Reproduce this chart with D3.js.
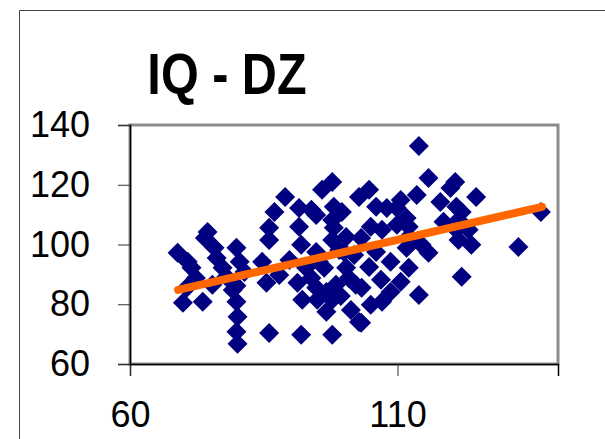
<!DOCTYPE html>
<html>
<head>
<meta charset="utf-8">
<script src="https://cdnjs.cloudflare.com/ajax/libs/d3/7.8.5/d3.min.js"></script>
<style>
    body { margin: 0; background: #fff; }
    svg { display: block; font-family: Arial, 'Liberation Sans', sans-serif; }
</style>
</head>
<body>
<script>
'use strict';

// chart values
var title = 'IQ - DZ';
var xTicks = [60, 110];
var yTicks = [60, 80, 100, 120, 140];

// twin 1 (x) and twin 2 (y) scores
var twinX = [68.9, 69.9, 70.6, 70.8, 71.5, 72.3, 73.6, 74.0, 74.5, 75.4,
    75.8, 76.2, 77.3, 78.0, 79.9, 80.5, 79.2, 79.9, 79.9, 80.1,
    79.9, 80.1, 81.4, 86.0, 86.0, 87.0, 89.0, 84.7, 85.5, 86.0,
    87.9, 89.8, 91.6, 91.6, 92.0, 92.9, 92.2, 92.0, 93.9, 94.8,
    94.8, 94.8, 95.9, 97.8, 98.1, 99.6, 98.1, 97.8, 96.7, 97.8,
    98.5, 97.8, 100.4, 102.2, 102.8, 102.8, 100.4, 91.3, 95.0, 100.0,
    96.3, 101.9, 95.3, 99.4, 100.9, 93.9, 96.7, 101.3, 99.1, 104.7,
    108.0, 109.9, 110.6, 113.6, 114.0, 115.8, 119.9, 120.8, 118.0, 121.0,
    122.0, 124.7, 136.8, 111.7, 105.0, 107.1, 121.0, 123.3, 123.8, 121.4,
    132.6, 122.0, 112.1, 114.5, 115.8, 114.0, 112.1, 110.6, 107.1, 105.0,
    103.2, 103.3, 104.7, 111.7, 112.7, 108.7, 106.9, 108.7, 103.2, 106.0,
    109.9, 118.6, 106.0, 121.4, 112.1, 97.8];
var twinY = [97.2, 80.5, 85.5, 94.2, 92.2, 88.8, 80.8, 102.2, 104.2, 86.5,
    98.9, 95.5, 92.2, 89.2, 98.9, 94.2, 84.8, 86.2, 80.8, 75.8,
    70.8, 66.8, 90.8, 105.6, 101.5, 110.9, 115.9, 94.2, 87.2, 70.4,
    89.8, 94.8, 112.2, 105.9, 99.9, 92.2, 81.5, 69.8, 111.6, 109.9,
    97.5, 85.5, 118.3, 120.9, 112.6, 110.9, 105.6, 101.5, 77.5, 81.5,
    86.5, 69.8, 92.2, 86.5, 74.1, 115.9, 102.5, 87.2, 81.5, 97.5,
    92.2, 96.5, 94.2, 82.8, 88.8, 88.8, 84.1, 78.1, 98.2, 118.3,
    112.2, 112.2, 114.9, 116.6, 133.0, 122.3, 118.9, 120.9, 114.2, 112.6,
    110.9, 115.9, 110.9, 108.9, 105.9, 104.9, 104.9, 104.9, 99.9, 101.5,
    99.2, 89.2, 102.5, 99.9, 97.2, 83.1, 92.2, 87.5, 80.8, 79.8,
    73.8, 85.5, 92.5, 98.9, 101.5, 94.2, 88.2, 84.1, 102.2, 97.5,
    106.6, 107.6, 112.6, 108.2, 105.9, 108.2];

// linear trend line end points
var trendX = [69, 137];
var trendY = [84.8, 112.6];

var width = 605;
var height = 439;
var plot = {left: 130, top: 125, right: 558, bottom: 364};

document.addEventListener('DOMContentLoaded', function() {
    drawScatter();
});

function drawScatter() {

    var svg = d3.select('body').append('svg')
        .attr('width', width)
        .attr('height', height);

    // outer chart frame (only top and left visible)
    svg.append('path')
        .attr('d', 'M19.5,' + height + 'V10.5H' + width)
        .attr('fill', 'none')
        .attr('stroke', '#444')
        .attr('stroke-width', 1);

    // scales
    var x = d3.scaleLinear()
        .domain([60, 140])
        .range([plot.left, plot.right]);

    var y = d3.scaleLinear()
        .domain([60, 140])
        .range([plot.bottom, plot.top]);

    // plot area border
    svg.append('rect')
        .attr('x', plot.left)
        .attr('y', plot.top)
        .attr('width', plot.right - plot.left)
        .attr('height', plot.bottom - plot.top)
        .attr('fill', '#fff')
        .attr('stroke', '#8c8c8c')
        .attr('stroke-width', 3);

    // title, a bit narrow and tall like the original
    svg.append('text')
        .attr('transform', 'translate(227,94) scale(0.9,1.05)')
        .attr('text-anchor', 'middle')
        .attr('font-size', 54)
        .attr('font-weight', 'bold')
        .text(title);

    // x axis
    var xAxis = svg.append('g')
        .attr('transform', 'translate(0,' + plot.bottom + ')')
        .call(d3.axisBottom(x).tickValues(xTicks).tickSize(12).tickPadding(25));

    // y axis
    var yAxis = svg.append('g')
        .attr('transform', 'translate(' + plot.left + ',0)')
        .call(d3.axisLeft(y).tickValues(yTicks).tickSize(12).tickPadding(28));

    [xAxis, yAxis].forEach(function(axis) {
        axis.select('.domain').attr('stroke', '#000').attr('stroke-width', 1.5);
        axis.selectAll('.tick line').attr('stroke', '#333');
        axis.selectAll('text')
            .attr('fill', '#000')
            .attr('font-size', 36)
            .attr('font-family', 'Arial, Liberation Sans, sans-serif');
    });

    // diamonds
    var points = d3.range(twinX.length).map(function(i) {
        return {x: twinX[i], y: twinY[i]};
    });
    var diamond = d3.symbol().type(d3.symbolSquare).size(200);

    svg.append('g').selectAll('path')
        .data(points)
        .enter().append('path')
        .attr('d', diamond)
        .attr('fill', '#000080')
        .attr('transform', function(d) {
            return 'translate(' + x(d.x) + ',' + y(d.y) + ') rotate(45)';
        });

    // trend line
    var line = d3.line()
        .x(function(d) { return x(d[0]); })
        .y(function(d) { return y(d[1]); });

    svg.append('path')
        .datum(d3.zip(trendX, trendY))
        .attr('d', line)
        .attr('fill', 'none')
        .attr('stroke', '#ff6600')
        .attr('stroke-width', 8)
        .attr('stroke-linecap', 'round');
}
</script>
</body>
</html>
